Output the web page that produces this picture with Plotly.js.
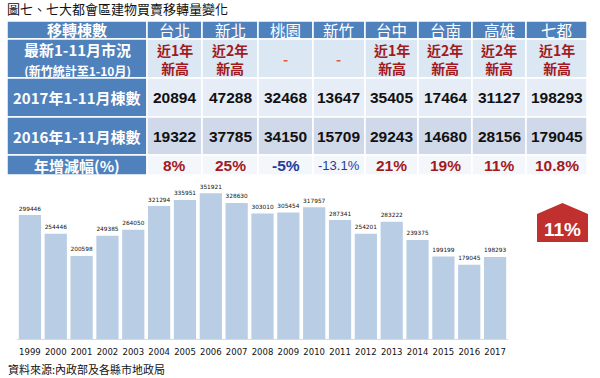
<!DOCTYPE html>
<html><head><meta charset="utf-8">
<script src="https://cdn.plot.ly/plotly-3.0.1.min.js"></script>
<style>html,body{margin:0;padding:0;background:#fff}#c{width:600px;height:378px}</style>
</head><body><div id="c"></div>
<script>
const title = '圖七、七大都會區建物買賣移轉量變化';
const source = '資料來源:內政部及各縣市地政局';
const rowLabels = ['移轉棟數', '最新1-11月市況<br><span style="font-size:12px">(新竹統計至1-10月)</span>', '2017年1-11月棟數', '2016年1-11月棟數', '年增減幅(%)'];
const cities = ['台北','新北','桃園','新竹','台中','台南','高雄','七都'];
const status = ['近1年<br>新高','近2年<br>新高','-','-','近1年<br>新高','近2年<br>新高','近2年<br>新高','近1年<br>新高'];
const y2017 = [20894,47288,32468,13647,35405,17464,31127,198293];
const y2016 = [19322,37785,34150,15709,29243,14680,28156,179045];
const growth = ['8%','25%','-5%','-13.1%','21%','19%','11%','10.8%'];
const years = ['1999','2000','2001','2002','2003','2004','2005','2006','2007','2008','2009','2010','2011','2012','2013','2014','2015','2016','2017'];
const volumes = [299446,254446,200598,249385,264050,321294,335951,351921,328630,303010,305454,317957,287341,254201,283222,239375,199199,179045,198293];
const badgeText = '11%';

const W = 600, H = 378;
const px = x => x / W, py = y => 1 - y / H;
const colEdges = [7,147,202,258,313,365,418,472,526,587];
const rowEdges = [21,39,78,117,155,175];
const rowFill = ['#4f81bd','#dbe7f3','#e7edf6','#d0d9e9','#f3f6fa'];
const CJK = '"Noto Sans CJK TC", "Noto Sans", sans-serif';
const LAT = '"Liberation Sans", Arial, sans-serif';

const shapes = [], annotations = [];
function rect(x0,y0,x1,y1,fill){
  shapes.push({type:'rect',xref:'paper',yref:'paper',x0:px(x0),x1:px(x1),y0:py(y1),y1:py(y0),
    fillcolor:fill,line:{color:'#ffffff',width:1.5},layer:'below'});
}
function txt(x,y,t,size,color,bold,xanchor,family){
  annotations.push({xref:'paper',yref:'paper',x:px(x),y:py(y),text:bold?'<b>'+t+'</b>':t,showarrow:false,
    xanchor:xanchor||'center',yanchor:'middle',font:{family:family||CJK,size:size,color:color}});
}
for(let r=0;r<5;r++){
  const y0=rowEdges[r], y1=rowEdges[r+1], ym=(y0+y1)/2;
  rect(colEdges[0],y0,colEdges[1],y1,'#4f81bd');
  txt((colEdges[0]+colEdges[1])/2, ym, rowLabels[r], 15, '#ffffff', true);
  for(let c=0;c<cities.length;c++){
    const x0=colEdges[c+1], x1=colEdges[c+2], xm=(x0+x1)/2;
    rect(x0,y0,x1,y1,rowFill[r]);
    if(r===0) txt(xm,ym,cities[c],15.5,'#ffffff',false);
    if(r===1) txt(xm,ym,status[c],14,status[c]==='-'?'#e05a2a':'#a31a1e',true);
    if(r===2) txt(xm,ym,String(y2017[c]),15.5,'#111111',true,'center',LAT);
    if(r===3) txt(xm,ym,String(y2016[c]),15.5,'#111111',true,'center',LAT);
    if(r===4){
      const neg = growth[c].startsWith('-');
      const small = neg && growth[c].includes('.');
      txt(xm,ym,growth[c],small?13:15.5,neg?'#1f3c9e':'#a31a1e',!small,'center',LAT);
    }
  }
}
// title & source
txt(5,8,title,13,'#111111',false,'left');
txt(6,369,source,11,'#111111',false,'left');
// badge
const bx0=537,bx1=588,btop=203,bsh=214,bbot=242;
shapes.push({type:'path',xref:'paper',yref:'paper',
  path:`M ${px(bx0)},${py(bbot)} L ${px(bx0)},${py(bsh)} L ${px((bx0+bx1)/2)},${py(btop)} L ${px(bx1)},${py(bsh)} L ${px(bx1)},${py(bbot)} Z`,
  fillcolor:'#c0302f',line:{width:0}});
txt((bx0+bx1)/2,229,badgeText,19,'#ffffff',true,'center',LAT);

const trace = {type:'bar',x:years,y:volumes,marker:{color:'#b9cde5',line:{width:0}},
  text:volumes.map(String),textposition:'outside',cliponaxis:false,
  textfont:{family:'"DejaVu Sans", sans-serif',size:8,color:'#111111'},hoverinfo:'skip'};

const layout = {
  width:W,height:H,margin:{l:0,r:0,t:0,b:0},paper_bgcolor:'#ffffff',plot_bgcolor:'rgba(0,0,0,0)',
  showlegend:false,bargap:0.14,
  xaxis:{domain:[px(17),px(508)],type:'category',showgrid:false,zeroline:false,showline:true,linecolor:'#d9d9d9',linewidth:1,
    ticks:'',ticklabelstandoff:5,tickfont:{family:'"DejaVu Sans", sans-serif',size:8.5,color:'#111111'},fixedrange:true},
  yaxis:{domain:[py(339),py(180)],range:[0,384000],visible:false,showgrid:false,zeroline:false,fixedrange:true},
  shapes:shapes,annotations:annotations
};
Plotly.newPlot('c',[trace],layout,{staticPlot:true});
</script></body></html>
